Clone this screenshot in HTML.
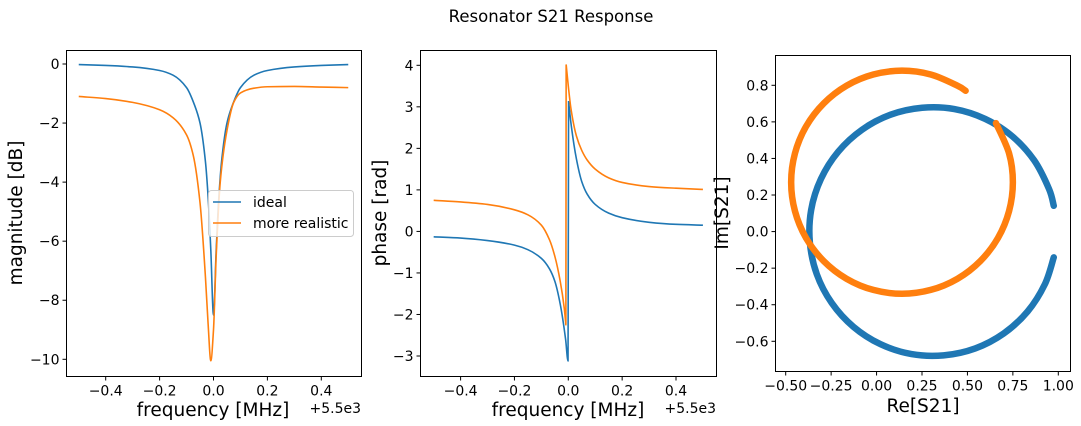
<!DOCTYPE html>
<html><head><meta charset="utf-8">
<style>
html,body{margin:0;padding:0;background:#fff;}
svg{display:block;font-family:"DejaVu Sans","Liberation Sans",sans-serif;}
</style></head>
<body>
<svg id="fig" width="1081" height="426" viewBox="0 0 1081 426">
<text x="551" y="22" text-anchor="middle" font-size="16.5">Resonator S21 Response</text>
</svg>
<script>
// ---- Panel 1: magnitude ----
const magFreqIdeal = [-0.5,-0.4,-0.3,-0.2,-0.15,-0.1,-0.07,-0.05,-0.03,-0.02,-0.01,0,0.01,0.02,0.03,0.05,0.07,0.1,0.15,0.2,0.3,0.4,0.5];
const magIdeal = [-0.02,-0.05,-0.1,-0.22,-0.38,-0.8,-1.4,-2.0,-3.3,-4.5,-6.3,-8.5,-6.3,-4.5,-3.3,-2.0,-1.4,-0.8,-0.38,-0.22,-0.1,-0.05,-0.02];
const magFreqReal = [-0.5,-0.4,-0.3,-0.2,-0.15,-0.1,-0.075,-0.05,-0.03,-0.02,-0.01,0,0.01,0.025,0.05,0.075,0.1,0.15,0.2,0.3,0.4,0.5];
const magReal = [-1.1,-1.17,-1.3,-1.55,-1.82,-2.4,-3.1,-4.7,-7.2,-8.8,-10.05,-9.0,-6.5,-4.0,-2.25,-1.3,-0.98,-0.82,-0.77,-0.76,-0.78,-0.8];
const magYTicks = [0,-2,-4,-6,-8,-10];
const freqTicks = [-0.4,-0.2,0.0,0.2,0.4];
// ---- Panel 2: phase ----
const phFreqIdeal = [-0.5,-0.4,-0.3,-0.2,-0.15,-0.1,-0.07,-0.05,-0.03,-0.01,-0.001,0.001,0.01,0.03,0.05,0.07,0.1,0.15,0.2,0.3,0.4,0.5];
const phIdeal = [-0.13,-0.16,-0.22,-0.33,-0.44,-0.65,-0.9,-1.2,-1.75,-2.6,-3.12,3.14,2.6,1.75,1.2,0.9,0.65,0.44,0.33,0.22,0.17,0.15];
const phFreqReal = [-0.5,-0.4,-0.3,-0.2,-0.15,-0.1,-0.07,-0.05,-0.03,-0.015,-0.009,-0.008,0,0.01,0.03,0.05,0.07,0.1,0.15,0.2,0.3,0.4,0.5];
const phReal = [0.75,0.71,0.65,0.52,0.4,0.15,-0.2,-0.6,-1.2,-1.85,-2.25,4.02,3.5,2.95,2.3,1.95,1.72,1.5,1.29,1.18,1.08,1.04,1.01];
const phYTicks = [4,3,2,1,0,-1,-2,-3];
// ---- Panel 3: complex plane ----
const reIdeal = [0.975,0.949,0.867,0.747,0.598,0.428,0.251,0.077,-0.080,-0.211,-0.306,-0.360,-0.367,-0.329,-0.247,-0.127,0.022,0.192,0.369,0.543,0.700,0.831,0.926,0.975];
const imIdeal = [0.141,0.233,0.390,0.521,0.616,0.670,0.677,0.639,0.557,0.437,0.288,0.118,-0.059,-0.233,-0.390,-0.521,-0.616,-0.670,-0.677,-0.639,-0.557,-0.437,-0.288,-0.141];
const reReal = [0.657,0.729,0.750,0.729,0.668,0.571,0.445,0.298,0.140,-0.018,-0.165,-0.291,-0.388,-0.449,-0.470,-0.449,-0.388,-0.291,-0.165,-0.018,0.140,0.298,0.445,0.490];
const imReal = [0.593,0.428,0.270,0.112,-0.035,-0.161,-0.258,-0.319,-0.340,-0.319,-0.258,-0.161,-0.035,0.112,0.270,0.428,0.575,0.701,0.798,0.859,0.880,0.859,0.798,0.770];
const reTicks = [-0.5,-0.25,0,0.25,0.5,0.75,1.0];
const reTickLabels = ["\u22120.50","\u22120.25","0.00","0.25","0.50","0.75","1.00"];
const imTicks = [0.8,0.6,0.4,0.2,0,-0.2,-0.4,-0.6];

const NS="http://www.w3.org/2000/svg";
const svg=document.getElementById('fig');
const BLUE="#1f77b4", ORANGE="#ff7f0e";
function mk(tag,attrs,parent){const e=document.createElementNS(NS,tag);for(const k in attrs)e.setAttribute(k,attrs[k]);(parent||svg).appendChild(e);return e;}
function fmt(v,d){const s=v.toFixed(d);return v<0?"\u2212"+s.slice(1):s;}
function lin(d0,d1,p0,p1){return v=>p0+(v-d0)*(p1-p0)/(d1-d0);}

function monoPath(P){
  const n=P.length; if(n<2)return '';
  const d=[],m=[];
  for(let i=0;i<n-1;i++)d.push((P[i+1][1]-P[i][1])/(P[i+1][0]-P[i][0]));
  m[0]=d[0]; m[n-1]=d[n-2];
  for(let i=1;i<n-1;i++){ if(d[i-1]*d[i]<=0)m[i]=0; else { const h0=P[i][0]-P[i-1][0],h1=P[i+1][0]-P[i][0]; const w1=2*h1+h0,w2=h1+2*h0; m[i]=(w1+w2)/(w1/d[i-1]+w2/d[i]); } }
  let s='M'+P[0][0].toFixed(2)+','+P[0][1].toFixed(2);
  for(let i=0;i<n-1;i++){const h=(P[i+1][0]-P[i][0])/3;
    s+=' C'+(P[i][0]+h).toFixed(2)+','+(P[i][1]+m[i]*h).toFixed(2)+' '+(P[i+1][0]-h).toFixed(2)+','+(P[i+1][1]-m[i+1]*h).toFixed(2)+' '+P[i+1][0].toFixed(2)+','+P[i+1][1].toFixed(2);}
  return s;
}
function crPath(P){
  let s='M'+P[0][0].toFixed(2)+','+P[0][1].toFixed(2);
  for(let i=0;i<P.length-1;i++){
    const p0=P[Math.max(i-1,0)],p1=P[i],p2=P[i+1],p3=P[Math.min(i+2,P.length-1)];
    s+=' C'+(p1[0]+(p2[0]-p0[0])/6).toFixed(2)+','+(p1[1]+(p2[1]-p0[1])/6).toFixed(2)+' '+(p2[0]-(p3[0]-p1[0])/6).toFixed(2)+','+(p2[1]-(p3[1]-p1[1])/6).toFixed(2)+' '+p2[0].toFixed(2)+','+p2[1].toFixed(2);
  }
  return s;
}

function frame(g,L,T,R,B){
  const r=mk('rect',{x:L,y:T,width:R-L,height:B-T,fill:'none',stroke:'#000','stroke-width':1},g);
  
  
}
function xTick(g,x,B,label){
  mk('line',{x1:x,y1:B,x2:x,y2:B+4,stroke:'#000'},g);
  const t=mk('text',{x:x,y:B+19,'text-anchor':'middle','font-size':14},g);
  t.textContent=label;
  
  
}
function yTick(g,y,L,label){
  mk('line',{x1:L-4,y1:y,x2:L,y2:y,stroke:'#000'},g);
  const t=mk('text',{x:L-7,y:y+5,'text-anchor':'end','font-size':14},g);
  t.textContent=label;
  
  
}
function line(g,xs,ys,sx,sy,color,name){
  const segs=[[]];
  xs.forEach((v,i)=>{
    if(i>0 && Math.abs(ys[i]-ys[i-1])>4){ segs[segs.length-1].push([sx(v),sy(ys[i])]); segs.push([]); }
    segs[segs.length-1].push([sx(v),sy(ys[i])]);
  });
  let d='';
  segs.forEach(S=>{
    if(S.length>=2){
      const last=S[S.length-1], prev=S[S.length-2];
      if(Math.abs(last[0]-prev[0])<0.5){ d+=monoPath(S.slice(0,-1))+' L'+last[0].toFixed(2)+','+last[1].toFixed(2)+' '; }
      else d+=monoPath(S)+' ';
    }
  });
  const p=mk('path',{d:d,fill:'none',stroke:color,'stroke-width':1.6,'stroke-linejoin':'round'},g);
  
  
}
function label(g,x,y,txt,rot,name,size){
  const t=mk('text',{x:x,y:y,'text-anchor':'middle','font-size':size||18.5},g);
  if(rot)t.setAttribute('transform','rotate(-90 '+x+' '+y+')');
  t.textContent=txt;
  
  
}

// Panel 1
{
  const g=mk('g',{});
  
  
  const L=66.5,R=361.5,T=50.5,B=376.5;
  const sx=lin(0,0.4,213.5,321.3), sy=lin(0,-10,64,359.3);
  frame(g,L,T,R,B);
  freqTicks.forEach(v=>xTick(g,sx(v),B,fmt(v,1)));
  magYTicks.forEach(v=>yTick(g,sy(v),L,fmt(v,0)));
  line(g,magFreqIdeal,magIdeal,sx,sy,BLUE,'ideal-magnitude-line');
  line(g,magFreqReal,magReal,sx,sy,ORANGE,'realistic-magnitude-line');
  label(g,213,416,'frequency [MHz]',false,'x-axis-title');
  const o=mk('text',{x:361,y:413,'text-anchor':'end','font-size':14},g);o.textContent='+5.5e3';
  
  
  label(g,22,213,'magnitude [dB]',true,'y-axis-title');
  const lg=mk('g',{},g);
  
  
  mk('rect',{x:208.5,y:190.5,width:145,height:46,rx:3,fill:'#fff','fill-opacity':0.8,stroke:'#ccc'},lg);
  mk('line',{x1:213,y1:202,x2:241,y2:202,stroke:BLUE,'stroke-width':1.6},lg);
  mk('line',{x1:213,y1:223,x2:241,y2:223,stroke:ORANGE,'stroke-width':1.6},lg);
  const a=mk('text',{x:253,y:207,'font-size':14},lg);a.textContent='ideal';
  
  
  const b=mk('text',{x:253,y:228,'font-size':14},lg);b.textContent='more realistic';
  
  
}
// Panel 2
{
  const g=mk('g',{});
  
  
  const L=420.5,R=716.5,T=50.5,B=376.5;
  const sx=lin(0,0.4,568.3,676), sy=lin(4,-3,65.3,356);
  frame(g,L,T,R,B);
  freqTicks.forEach(v=>xTick(g,sx(v),B,fmt(v,1)));
  phYTicks.forEach(v=>yTick(g,sy(v),L,fmt(v,0)));
  line(g,phFreqIdeal,phIdeal,sx,sy,BLUE,'ideal-phase-line');
  line(g,phFreqReal,phReal,sx,sy,ORANGE,'realistic-phase-line');
  label(g,568,416,'frequency [MHz]',false,'x-axis-title');
  const o=mk('text',{x:716,y:413,'text-anchor':'end','font-size':14},g);o.textContent='+5.5e3';
  
  
  label(g,386,213,'phase [rad]',true,'y-axis-title');
}
// Panel 3
{
  const g=mk('g',{});
  
  
  const L=775.5,R=1070.5,T=55.5,B=371.5;
  const sx=lin(-0.5,1.0,785.7,1058.3), sy=lin(0.8,-0.6,85.3,341.3);
  frame(g,L,T,R,B);
  reTicks.forEach((v,i)=>xTick(g,sx(v),B,reTickLabels[i]));
  imTicks.forEach(v=>yTick(g,sy(v),L,fmt(v,1)));
  function arc(xs,ys,color,name){
    const P=xs.map((v,i)=>[sx(v),sy(ys[i])]);
    const p=mk('path',{d:crPath(P),fill:'none',stroke:color,'stroke-width':6.5,'stroke-linecap':'round','stroke-linejoin':'round'},g);
    
    
  }
  arc(reIdeal,imIdeal,BLUE,'ideal-iq-circle');
  arc(reReal,imReal,ORANGE,'realistic-iq-circle');
  label(g,923,412,'Re[S21]',false,'x-axis-title');
  label(g,728,213,'Im[S21]',true,'y-axis-title');
}
</script>
</body></html>
